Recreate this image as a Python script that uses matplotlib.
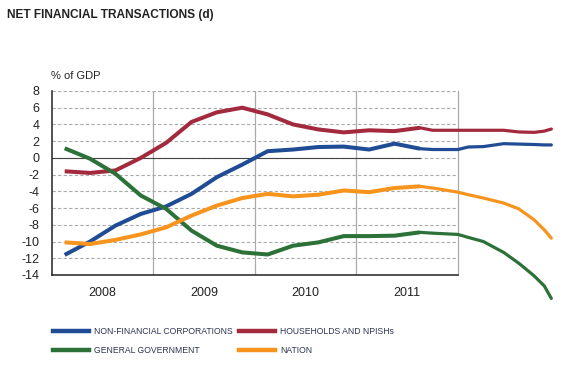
### Load packages

import matplotlib
matplotlib.use("Agg")
import matplotlib.pyplot as plt

### Data (% of GDP), quarterly observations then projection

quarters = [0.125, 0.375, 0.625, 0.875, 1.125, 1.375, 1.625, 1.875,
            2.125, 2.375, 2.625, 2.875, 3.125, 3.375, 3.625]
nfc = [-11.6, -10.0, -8.1, -6.7, -5.8, -4.3, -2.3, -0.8,
       0.8, 1.0, 1.3, 1.35, 1.0, 1.7, 1.1]
households = [-1.6, -1.8, -1.5, 0.0, 1.8, 4.3, 5.45, 6.0,
              5.2, 4.0, 3.4, 3.05, 3.3, 3.2, 3.6]
government = [1.15, -0.1, -1.9, -4.5, -6.1, -8.7, -10.5, -11.3,
              -11.55, -10.5, -10.1, -9.35, -9.35, -9.3, -8.9]
nation = [-10.1, -10.3, -9.8, -9.15, -8.3, -6.9, -5.7, -4.8,
          -4.3, -4.6, -4.4, -3.9, -4.1, -3.6, -3.4]

proj_x = [3.625, 3.75, 4.0, 4.1, 4.25, 4.45, 4.6, 4.75, 4.85, 4.92]
nfc_proj = [1.1, 1.0, 1.0, 1.3, 1.35, 1.7, 1.65, 1.6, 1.55, 1.55]
households_proj = [3.6, 3.3, 3.3, 3.3, 3.3, 3.3, 3.1, 3.05, 3.2, 3.45]
government_proj = [-8.9, -9.0, -9.15, -9.5, -10.0, -11.3, -12.6, -14.1, -15.3, -16.8]
nation_proj = [-3.4, -3.6, -4.1, -4.4, -4.8, -5.4, -6.1, -7.4, -8.6, -9.6]

years = ["2008", "2009", "2010", "2011"]
yticks = [8, 6, 4, 2, 0, -2, -4, -6, -8, -10, -12, -14]

labels = ["NON-FINANCIAL CORPORATIONS", "HOUSEHOLDS AND NPISHs",
          "GENERAL GOVERNMENT", "NATION"]
colors = ["#1f4c94", "#a32a3d", "#2b7138", "#f7941e"]

### Figure

plt.rcParams['font.family'] = ["Liberation Sans", "DejaVu Sans"]

fig = plt.figure(figsize=(5.77, 3.75), dpi=100)
ax = fig.add_axes([0.0901, 0.2667, 0.7036, 0.4907])

ax.set_xlim(0, 4)
ax.set_ylim(-14, 8)

# grid
for y in yticks:
    ax.axhline(y, color="#aaaaaa", lw=0.8, ls=(0, (3, 2)), zorder=1)
for x in [1, 2, 3]:
    ax.axvline(x, color="#aaaaaa", lw=0.9, zorder=1)
ax.plot([0, 3.625], [0, 0], color="#444444", lw=0.8, zorder=2)

series = [(nfc, nfc_proj), (households, households_proj),
          (government, government_proj), (nation, nation_proj)]
for (obs, proj), c in zip(series, colors):
    ax.plot(quarters, obs, color=c, lw=2.9, solid_capstyle="butt",
            solid_joinstyle="round", zorder=3, clip_on=False)
    ax.plot(proj_x, proj, color=c, lw=2.3, solid_capstyle="round",
            zorder=3, clip_on=False)

ax.spines["top"].set_visible(False)
ax.spines["right"].set_color("#aaaaaa")
ax.spines["right"].set_linewidth(0.9)
ax.spines["left"].set_color("#222222")
ax.spines["bottom"].set_color("#222222")
ax.spines["left"].set_linewidth(1.1)
ax.spines["bottom"].set_linewidth(1.1)

ax.set_yticks(yticks)
ax.set_yticklabels([str(v) for v in yticks], fontsize=9)
ax.set_xticks([0.5, 1.5, 2.5, 3.5])
ax.set_xticklabels(years, fontsize=9)
ax.tick_params(length=0, pad=9, colors="#222222")
ax.tick_params(axis="x", pad=9)

fig.text(7 / 577, 1 - 15 / 375, "NET FINANCIAL TRANSACTIONS (d)", fontsize=8.6,
         fontweight="bold", color="#222222", va="center")
fig.text(51 / 577, 1 - 76 / 375, "% of GDP", fontsize=8, color="#222222",
         va="center")

### Legend

handles = [plt.Line2D([], [], color=c, lw=3.2) for c in colors]
order = [0, 2, 1, 3]
leg = fig.legend([handles[i] for i in order], [labels[i] for i in order],
                 ncol=2, loc="upper left", bbox_to_anchor=(0.078, 0.148),
                 frameon=False, handlelength=4.2, handletextpad=0.6,
                 columnspacing=0.7, labelspacing=1.1,
                 prop={"size": 6.2})
for t in leg.get_texts():
    t.set_color("#2e3550")

fig.savefig("out.png", dpi=100)
